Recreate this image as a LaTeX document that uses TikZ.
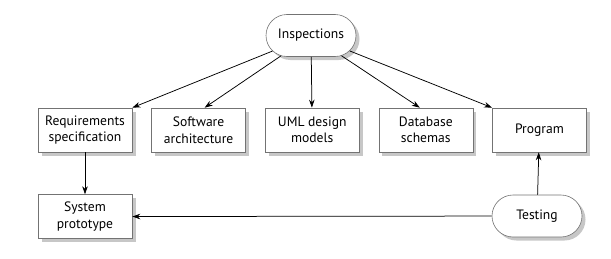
\documentclass[tikz,border=0pt]{standalone}
\usepackage{fontspec}
\setmainfont{PT Sans}
\usetikzlibrary{arrows.meta,positioning,shadows,shapes.misc}
\tikzset{
  work box/.style   = {draw=black!55, line width=0.6pt, fill=white,
                       minimum width=94pt, minimum height=44pt, align=center,
                       inner sep=2pt, font=\fontsize{13.6}{16.5}\selectfont,
                       drop shadow={shadow xshift=3.5pt, shadow yshift=-3.5pt,
                                    fill=black!22, opacity=1}},
  check node/.style = {draw=black!55, line width=0.6pt, fill=white,
                       rounded rectangle, minimum width=94pt,
                       minimum height=42pt, align=center, inner xsep=2pt,
                       font=\fontsize{13.6}{16.5}\selectfont,
                       drop shadow={shadow xshift=3.5pt, shadow yshift=-3.5pt,
                                    fill=black!22, opacity=1}},
  arr/.style        = {-{Stealth[length=8pt, width=5.5pt]}, line width=0.75pt},
}
\begin{document}
\begin{tikzpicture}[x=1pt, y=1pt]
  \useasboundingbox (0,0) rectangle (611,258);

  %% --- work products ---------------------------------------------
  \node[work box] (req) at (85,128) {Requirements\\specification};
  \node[work box, right=19pt of req]  (arch) {Software\\architecture};
  \node[work box, right=19pt of arch] (uml)  {UML design\\models};
  \node[work box, right=19pt of uml]  (db)   {Database\\schemas};
  \node[work box, right=19pt of db]   (prog) {Program};
  \node[work box, below=42pt of req]  (proto) {System\\prototype};

  %% --- verification activities -----------------------------------
  \node[check node] (insp) at (311,222.5) {Inspections};
  \node[check node] (test) at (537,42) {Testing};

  %% connectors
  \draw[arr] (insp) -- (req.north east);
  \draw[arr] (insp) -- ([xshift=6pt]arch.north);
  \draw[arr] (insp) -- (uml);
  \draw[arr] (insp) -- ([xshift=-6pt]db.north);
  \draw[arr] (insp) -- (prog.north west);
  \draw[arr] (req) -- (proto);
  \draw[arr] (test) -- (proto);
  \draw[arr] (test) -- (prog);
\end{tikzpicture}
\end{document}
